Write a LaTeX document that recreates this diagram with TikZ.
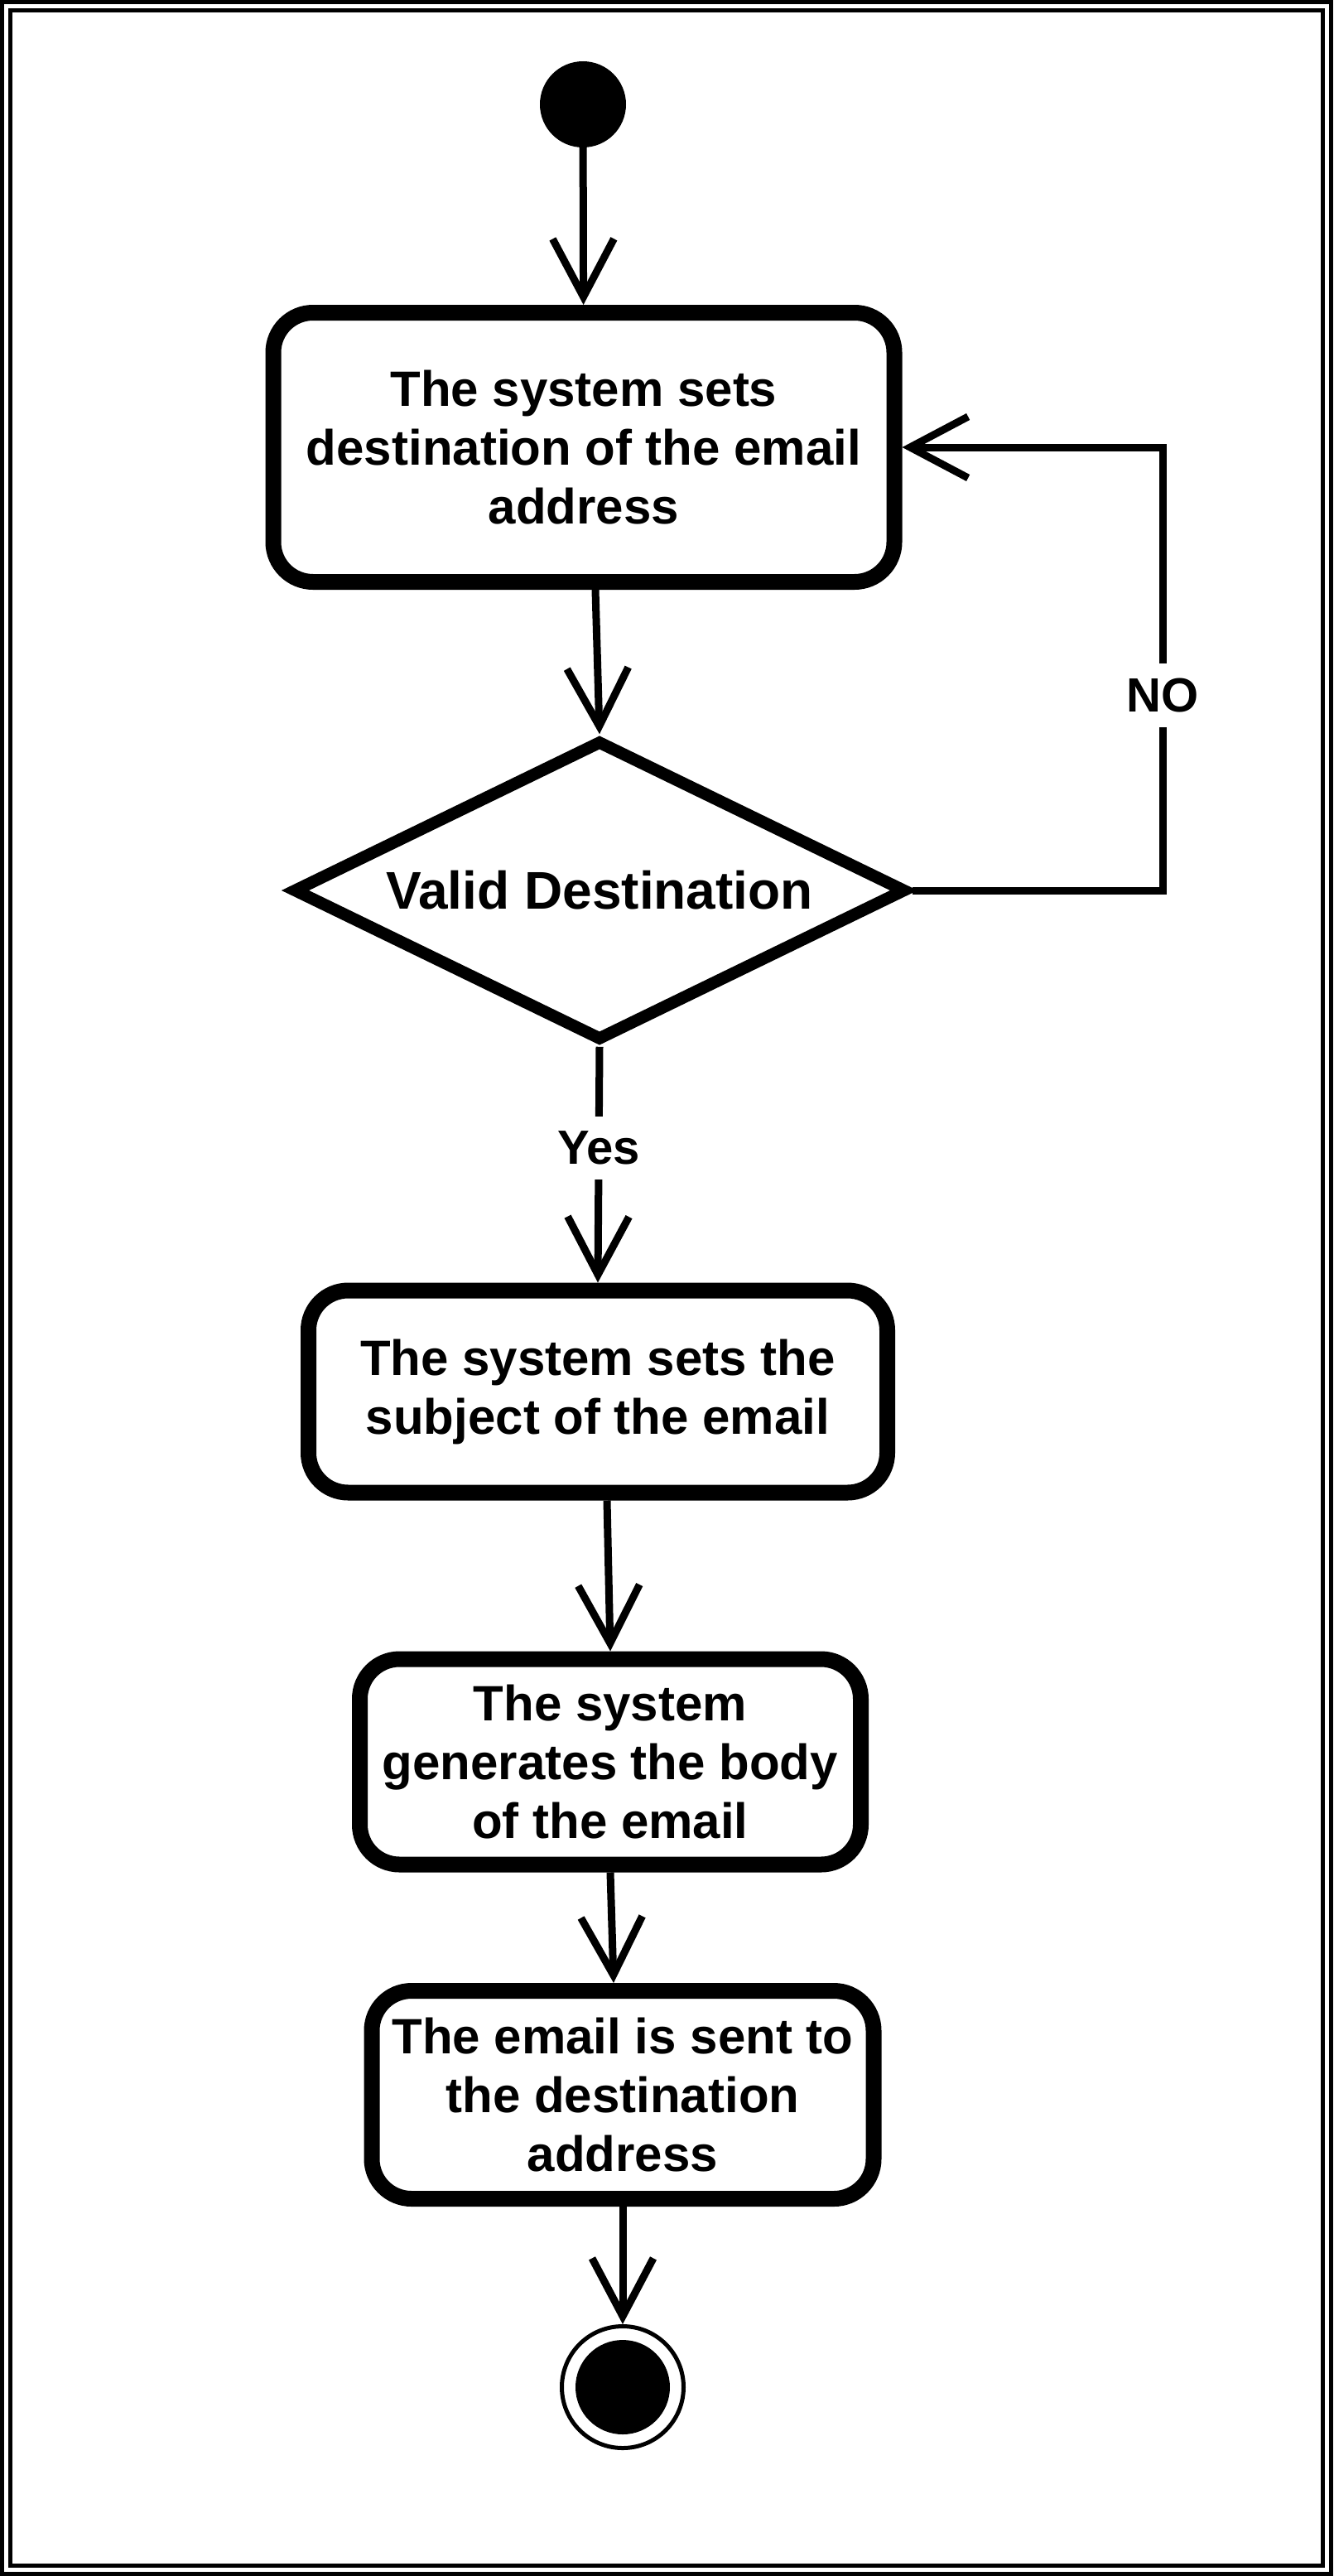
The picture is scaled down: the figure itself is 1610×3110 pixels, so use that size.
\documentclass[tikz,border=0pt]{standalone}
\usepackage{fontspec}
\setmainfont{Liberation Sans}
\usetikzlibrary{shapes.geometric, arrows.meta}

\newcommand{\actfont}{\fontsize{60}{71}\selectfont\bfseries}
\newcommand{\decfont}{\fontsize{64}{76}\selectfont\bfseries}
\newcommand{\lblfont}{\fontsize{58}{68}\selectfont\bfseries}

\begin{document}
\begin{tikzpicture}[
    x=1pt, y=-1pt,
    activity/.style={rectangle, draw, rounded corners=48pt, line width=19pt, align=center, font=\actfont, inner sep=0pt},
    decision/.style={diamond, draw, aspect=2.04, line width=14.5pt, inner sep=0pt, font=\decfont},
    arrow/.style={-{Straight Barb[length=70pt, width=74pt]}, line width=9pt},
    guard/.style={fill=white, inner sep=18pt, font=\lblfont},
    frame/.style={draw, line width=5pt}
]
    \useasboundingbox (0,0) rectangle (1610,3110);

    % Double frame
    \draw[frame] (2.5,2.5) rectangle (1607.5,3107.5);
    \draw[frame] (12.5,12.5) rectangle (1597.5,3097.5);

    % Initial node
    \node[circle, fill, minimum size=104pt, inner sep=0pt] (start) at (704,126) {};

    % Set destination
    \node[activity, minimum width=750pt, minimum height=325pt] (dest) at (705,540) {The system sets\\destination of the email\\address};
    \draw[arrow] (start) -- (dest);

    % Decision
    \node[decision, minimum width=741pt, minimum height=363pt] (valid) at (724,1075) {Valid Destination};
    \draw[arrow] ([xshift=14pt]dest.south) -- (valid.north);

    % Loop back when invalid
    \coordinate (loop) at (1404,540);
    \draw[arrow] (valid.east) -| node[guard, pos=0.72] {NO} (loop) -- (dest.east);

    % Set subject
    \node[activity, minimum width=699pt, minimum height=244pt] (subject) at (722,1680) {The system sets the\\subject of the email};
    \draw[arrow] (valid.south) -- node[guard, pos=0.43] {Yes} (subject.north);

    % Generate body
    \node[activity, minimum width=605pt, minimum height=248pt] (body) at (737,2127) {The system\\generates the body\\of the email};
    \draw[arrow] ([xshift=11pt]subject.south) -- (body.north);

    % Send
    \node[activity, minimum width=606pt, minimum height=251pt] (send) at (752,2529) {The email is sent to\\the destination\\address};
    \draw[arrow] (body.south) -- ([xshift=-11pt]send.north);

    % Final node
    \node[circle, draw, line width=5pt, minimum size=147pt, inner sep=0pt] (stop) at (752,2882) {};
    \fill (stop.center) circle (57pt);
    \draw[arrow] (send) -- (stop);
\end{tikzpicture}
\end{document}
